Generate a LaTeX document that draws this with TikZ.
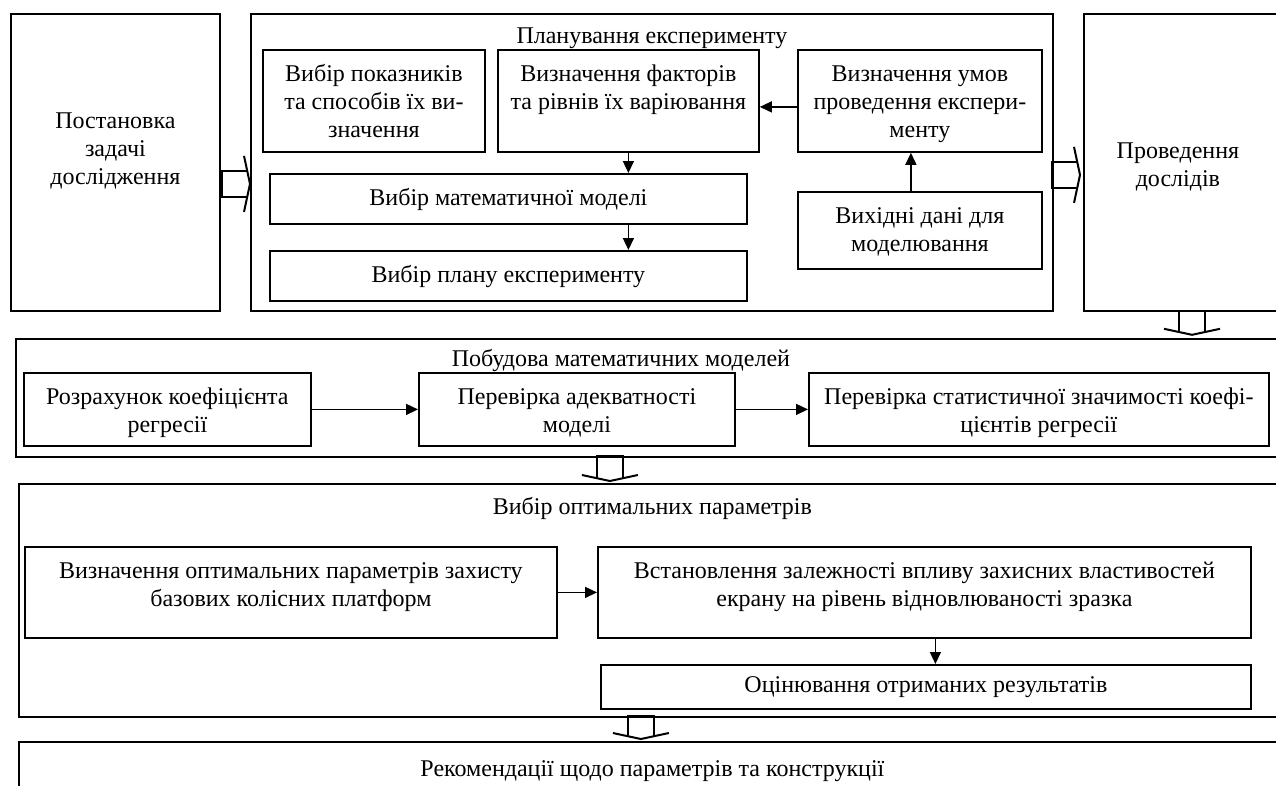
\documentclass[tikz,border=0pt]{standalone}
\usepackage{fontspec}
\setmainfont{Liberation Serif}
\usetikzlibrary{arrows.meta,calc}

\tikzset{
  pics/blk/.style={code={
    \draw[line width=1.6pt] (-3,13) -- (-#1,13) -- (-#1,-13) -- (-3,-13);
    \draw[line width=2pt] (-6,28) -- (0,0) -- (-6,-28);
  }}
}

\begin{document}
\begin{tikzpicture}[x=1pt,y=-1pt,
  font=\fontsize{24}{27.6}\selectfont,
  box/.style={draw,line width=1.8pt,align=center,anchor=north west,
    inner xsep=2pt,inner ysep=8pt,text height=24pt},
  sz/.style n args={3}{minimum width=#1,text height=24+27.6*(#3-1),
    text depth=#2-40-27.6*(#3-1)},
  arr/.style={-{Triangle[length=12pt,width=11pt]},line width=1.5pt}]

  \useasboundingbox (0,0) rectangle (1276,785);
  \clip (0,0) rectangle (1276,785);

  \begin{scope}[every node/.style=box]
    \node[minimum width=209,text height=162.2,text depth=118.8] (post) at (10,13) {Постановка\\задачі\\дослідження};
    \node[minimum width=802,text height=22,text depth=259] (plan) at (250,13) {Планування експерименту};
    \node[minimum width=202,text height=164.6,text depth=116.4] (prov) at (1083,13) {Проведення\hspace*{14pt}\\дослідів\hspace*{14pt}};

    \node[sz={222}{102}{3}] (pok) at (262,49) {Вибір показників\\та способів їх ви-\\значення};
    \node[sz={261}{102}{2}] (fak) at (497,49) {Визначення факторів\\та рівнів їх варіювання};
    \node[sz={244}{102}{3}] (umov) at (797,49) {Визначення умов\\проведення експери-\\менту};
    \node[sz={477}{50}{1}] (model) at (269,173) {Вибір математичної моделі};
    \node[sz={477}{50}{1}] (planexp) at (269,250) {Вибір плану експерименту};
    \node[sz={244}{77}{2}] (vyh) at (797,191) {Вихідні дані для\\моделювання};

    \node[minimum width=1270,text height=20,text depth=82] (bud) at (15,338) {Побудова математичних моделей\hspace*{60pt}};
    \node[sz={287}{73}{2}] (roz) at (23,372) {Розрахунок коефіцієнта\\регресії};
    \node[sz={316}{73}{2}] (ade) at (418,372) {Перевірка адекватності\\моделі};
    \node[sz={460}{73}{2}] (stat) at (808,372) {Перевірка статистичної значимості коефі-\\цієнтів регресії};

    \node[minimum width=1267,text height=23,text depth=194] (opt) at (18,483) {Вибір оптимальних параметрів};
    \node[sz={532}{91}{2}] (zah) at (24,546) {Визначення оптимальних параметрів захисту\\базових колісних платформ};
    \node[sz={653}{91}{2}] (vst) at (597,546) {Встановлення залежності впливу захисних властивостей\\екрану на рівень відновлюваності зразка};
    \node[minimum width=650,text height=20,text depth=8] (ots) at (600,664) {Оцінювання отриманих результатів};

    \node[minimum width=1267,text height=27,text depth=17] (rek) at (18,741) {Рекомендації щодо параметрів та конструкції};
  \end{scope}

  \draw[arr] ([yshift=-6]umov.west) -- ([yshift=-6]fak.east);
  \draw[arr] (fak.south) -- (fak.south |- model.north);
  \draw[arr] (fak.south |- model.south) -- (fak.south |- planexp.north);
  \draw[arr] ([xshift=-9]vyh.north) -- ([xshift=-9]umov.south);
  \draw[arr] (roz) -- (ade);
  \draw[arr] (ade) -- (stat);
  \draw[arr] (zah) -- (vst);
  \draw[arr] ([xshift=11]vst.south) -- ([xshift=11]vst.south |- ots.north);

  \pic at ([yshift=-21.5]plan.west) {blk=28};
  \pic at ([xshift=-3,yshift=-12.5]prov.west) {blk=28};
  \pic[rotate=-90] at ($(prov.south -| 1192,0)+(0,23)$) {blk=24};
  \pic[rotate=-90] at ([xshift=-42.5,yshift=2]opt.north) {blk=25};
  \pic[rotate=-90] at ([xshift=-11.5,yshift=2]rek.north) {blk=23};

\end{tikzpicture}
\end{document}
